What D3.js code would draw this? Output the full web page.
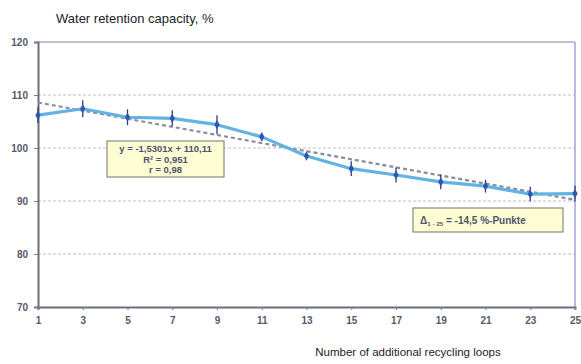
<!DOCTYPE html>
<html><head><meta charset="utf-8">
<script src="https://cdn.jsdelivr.net/npm/d3@7"></script>
<style>body{margin:0;background:#fff;}svg{display:block;}</style>
</head><body>
<script>
const loops = [1,3,5,7,9,11,13,15,17,19,21,23,25];
const retention = [106.2,107.4,105.8,105.6,104.4,102.1,98.5,96.1,94.9,93.6,92.8,91.3,91.4];
const errors = [1.5,1.6,1.5,1.5,1.8,0.8,0.8,1.4,1.4,1.4,1.2,1.4,1.5];
const yTicks = [70,80,90,100,110,120];
const trendSlope = -1.5301, trendIntercept = 110.11;
const eqLines = ["y = -1,5301x + 110,11","R² = 0,951","r = 0,98"];

const W=581,H=364;
const svg=d3.select("body").append("svg").attr("width",W).attr("height",H);
const x=d3.scaleLinear().domain([1,25]).range([38,575]);
const y=d3.scaleLinear().domain([70,120]).range([307,42]);
const tickColor="#55596a";

// gridlines
svg.append("g").selectAll("line").data([80,90,100,110]).join("line")
  .attr("x1",38).attr("x2",575).attr("y1",d=>y(d)).attr("y2",d=>y(d))
  .attr("stroke","#d3d5da").attr("stroke-width",1.3).attr("stroke-dasharray","3,2");
svg.append("line").attr("x1",38).attr("x2",575).attr("y1",y(120)).attr("y2",y(120))
  .attr("stroke","#a9aec8").attr("stroke-width",1.5);
svg.append("line").attr("x1",575).attr("x2",575).attr("y1",y(120)).attr("y2",y(70))
  .attr("stroke","#a3a3d6").attr("stroke-width",1.5);

// axes
const yAxis=svg.append("g").attr("transform","translate(38,0)")
  .call(d3.axisLeft(y).tickValues(yTicks).tickSize(4).tickPadding(6));
const xAxis=svg.append("g").attr("transform",`translate(0,${y(70)})`)
  .call(d3.axisBottom(x).tickValues(loops).tickSize(3).tickPadding(5));
[yAxis,xAxis].forEach(g=>{
  g.select(".domain").attr("stroke","#6a6d7c").attr("stroke-width",2);
  g.selectAll(".tick line").attr("stroke","#7a7d8c");
  g.selectAll("text").attr("fill",tickColor).attr("font-family","Liberation Sans, Arial, sans-serif")
   .attr("font-size",10).attr("font-weight","bold");
});
xAxis.selectAll(".tick text").attr("dy","0.85em");

// trend line
const trend=loops.map((v,i)=>[v,trendIntercept+trendSlope*(i+1)]);
svg.append("path").datum(trend)
  .attr("d",d3.line().x(d=>x(d[0])).y(d=>y(d[1])))
  .attr("fill","none").attr("stroke","#8a8c98").attr("stroke-width",2.2).attr("stroke-dasharray","4,3");

// data line
const pts=loops.map((v,i)=>[v,retention[i]]);
svg.append("path").datum(pts)
  .attr("d",d3.line().x(d=>x(d[0])).y(d=>y(d[1])))
  .attr("fill","none").attr("stroke","#62b3e4").attr("stroke-width",3.2).attr("stroke-linejoin","round");

// error bars
svg.append("g").selectAll("line").data(pts).join("line")
  .attr("x1",d=>x(d[0])).attr("x2",d=>x(d[0]))
  .attr("y1",(d,i)=>y(d[1]+errors[i])).attr("y2",(d,i)=>y(d[1]-errors[i]))
  .attr("stroke","#2c3f78").attr("stroke-width",1.3);
// markers
svg.append("g").selectAll("path").data(pts).join("path")
  .attr("transform",d=>`translate(${x(d[0])},${y(d[1])})`)
  .attr("d",d3.symbol(d3.symbolDiamond,24))
  .attr("fill","#2e58b0");

// equation box
const eq=svg.append("g");
eq.append("rect").attr("x",107).attr("y",141).attr("width",117).attr("height",36)
  .attr("fill","#fdfdd4").attr("stroke","#8a8a80").attr("stroke-width",1.2);
eq.selectAll("text").data(eqLines).join("text")
  .attr("x",165.5).attr("y",(d,i)=>152+i*10.5).attr("text-anchor","middle")
  .attr("font-family","Liberation Sans, Arial, sans-serif").attr("font-size",9.5)
  .attr("font-weight","bold").attr("fill","#50536a").text(d=>d);

// delta box
const db=svg.append("g");
db.append("rect").attr("x",413).attr("y",208).attr("width",150).attr("height",24)
  .attr("fill","#fdfdd4").attr("stroke","#8a8a80").attr("stroke-width",1.2);
const dt=db.append("text").attr("x",420).attr("y",224)
  .attr("font-family","Liberation Sans, Arial, sans-serif").attr("font-size",10)
  .attr("font-weight","bold").attr("fill","#50536a");
dt.append("tspan").text("Δ");
dt.append("tspan").attr("font-size",6).attr("dy",2).text("1→25");
dt.append("tspan").attr("dy",-2).text(" = -14,5 %-Punkte");

// titles
svg.append("text").attr("x",56).attr("y",23)
  .attr("font-family","Liberation Sans Narrow, Arial Narrow, sans-serif").attr("font-size",13)
  .attr("fill","#222").text("Water retention capacity, %");
svg.append("text").attr("x",408).attr("y",356).attr("text-anchor","middle")
  .attr("font-family","Liberation Sans Narrow, Arial Narrow, sans-serif").attr("font-size",11.5)
  .attr("fill","#222").text("Number of additional recycling loops");
</script>
</body></html>
